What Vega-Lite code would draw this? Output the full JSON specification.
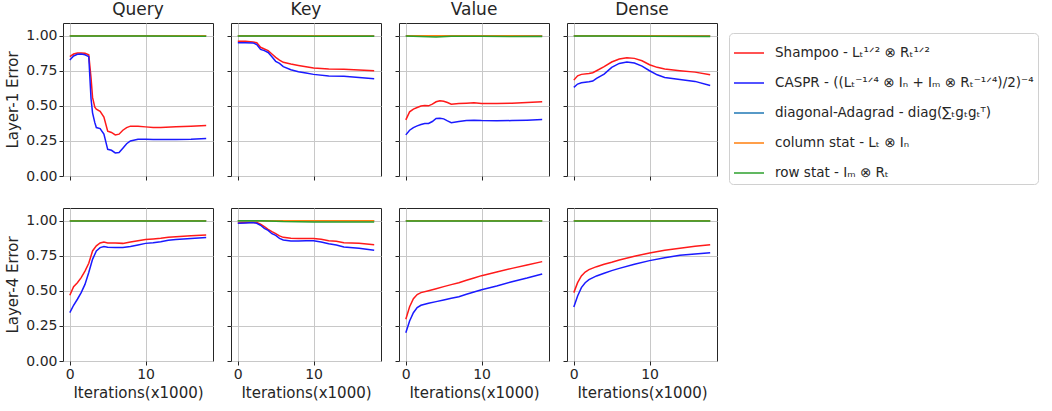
{
"$schema":"https://vega.github.io/schema/vega-lite/v6.json",
"padding":{"left":5,"top":0,"right":2,"bottom":5},
"datasets":{"d":[
{"r":1,"c":"Query","x":0,"a":0.85,"b":0.826,"d":1,"o":0.999,"g":0.997},
{"r":1,"c":"Query","x":0.5,"a":0.869,"b":0.855},
{"r":1,"c":"Query","x":1,"a":0.876,"b":0.867},
{"r":1,"c":"Query","x":1.5,"a":0.876,"b":0.869},
{"r":1,"c":"Query","x":2,"a":0.874,"b":0.864},
{"r":1,"c":"Query","x":2.5,"a":0.864,"b":0.85},
{"r":1,"c":"Query","x":2.8,"a":0.7,"b":0.55},
{"r":1,"c":"Query","x":3,"a":0.56,"b":0.45},
{"r":1,"c":"Query","x":3.3,"a":0.49,"b":0.38},
{"r":1,"c":"Query","x":3.5,"a":0.476,"b":0.345},
{"r":1,"c":"Query","x":4,"a":0.46,"b":0.338},
{"r":1,"c":"Query","x":4.5,"a":0.42,"b":0.298},
{"r":1,"c":"Query","x":5,"a":0.32,"b":0.19,"d":1,"o":0.999,"g":0.997},
{"r":1,"c":"Query","x":5.5,"a":0.31,"b":0.183},
{"r":1,"c":"Query","x":6,"a":0.293,"b":0.164},
{"r":1,"c":"Query","x":6.5,"a":0.298,"b":0.167},
{"r":1,"c":"Query","x":7,"a":0.326,"b":0.198},
{"r":1,"c":"Query","x":7.5,"a":0.345,"b":0.23},
{"r":1,"c":"Query","x":8,"a":0.355,"b":0.25},
{"r":1,"c":"Query","x":9,"a":0.355,"b":0.262},
{"r":1,"c":"Query","x":10,"a":0.35,"b":0.262,"d":1,"o":0.999,"g":0.997},
{"r":1,"c":"Query","x":11,"a":0.345,"b":0.26},
{"r":1,"c":"Query","x":12,"a":0.345,"b":0.26},
{"r":1,"c":"Query","x":14,"a":0.35,"b":0.26},
{"r":1,"c":"Query","x":16,"a":0.355,"b":0.262},
{"r":1,"c":"Query","x":18,"a":0.36,"b":0.267,"d":1,"o":0.999,"g":0.996},

{"r":1,"c":"Key","x":0,"a":0.96,"b":0.95,"d":1,"o":1,"g":0.998},
{"r":1,"c":"Key","x":1,"a":0.96,"b":0.95},
{"r":1,"c":"Key","x":2,"a":0.955,"b":0.948},
{"r":1,"c":"Key","x":2.5,"a":0.95,"b":0.936},
{"r":1,"c":"Key","x":3,"a":0.917,"b":0.902},
{"r":1,"c":"Key","x":3.5,"a":0.905,"b":0.893},
{"r":1,"c":"Key","x":4,"a":0.893,"b":0.88},
{"r":1,"c":"Key","x":4.5,"a":0.869,"b":0.85},
{"r":1,"c":"Key","x":5,"a":0.845,"b":0.817,"d":1,"o":1,"g":0.997},
{"r":1,"c":"Key","x":5.5,"a":0.826,"b":0.802},
{"r":1,"c":"Key","x":6,"a":0.81,"b":0.779},
{"r":1,"c":"Key","x":7,"a":0.798,"b":0.757},
{"r":1,"c":"Key","x":8,"a":0.788,"b":0.743},
{"r":1,"c":"Key","x":9,"a":0.779,"b":0.733},
{"r":1,"c":"Key","x":10,"a":0.769,"b":0.724,"d":1,"o":0.999,"g":0.996},
{"r":1,"c":"Key","x":12,"a":0.762,"b":0.712},
{"r":1,"c":"Key","x":14,"a":0.76,"b":0.71},
{"r":1,"c":"Key","x":16,"a":0.755,"b":0.702},
{"r":1,"c":"Key","x":18,"a":0.75,"b":0.693,"d":1,"o":0.998,"g":0.995},

{"r":1,"c":"Value","x":0,"a":0.4,"b":0.293,"d":1,"o":1,"g":0.998},
{"r":1,"c":"Value","x":0.5,"a":0.457,"b":0.326},
{"r":1,"c":"Value","x":1,"a":0.476,"b":0.345},
{"r":1,"c":"Value","x":1.5,"a":0.488,"b":0.357},
{"r":1,"c":"Value","x":2,"a":0.498,"b":0.367,"g":0.994},
{"r":1,"c":"Value","x":2.5,"a":0.502,"b":0.374},
{"r":1,"c":"Value","x":3,"a":0.5,"b":0.374},
{"r":1,"c":"Value","x":3.5,"a":0.512,"b":0.388},
{"r":1,"c":"Value","x":4,"a":0.529,"b":0.41,"g":0.99},
{"r":1,"c":"Value","x":4.5,"a":0.536,"b":0.412},
{"r":1,"c":"Value","x":5,"a":0.533,"b":0.407,"d":1,"o":1},
{"r":1,"c":"Value","x":5.5,"a":0.524,"b":0.393},
{"r":1,"c":"Value","x":6,"a":0.512,"b":0.38,"g":0.996},
{"r":1,"c":"Value","x":7,"a":0.517,"b":0.388},
{"r":1,"c":"Value","x":8,"a":0.519,"b":0.395},
{"r":1,"c":"Value","x":9,"a":0.521,"b":0.398},
{"r":1,"c":"Value","x":10,"a":0.517,"b":0.395,"d":1,"o":0.999,"g":0.995},
{"r":1,"c":"Value","x":12,"a":0.517,"b":0.393},
{"r":1,"c":"Value","x":14,"a":0.519,"b":0.395},
{"r":1,"c":"Value","x":16,"a":0.524,"b":0.398},
{"r":1,"c":"Value","x":18,"a":0.529,"b":0.402,"d":1,"o":0.998,"g":0.994},

{"r":1,"c":"Dense","x":0,"a":0.683,"b":0.631,"d":1,"o":1,"g":0.998},
{"r":1,"c":"Dense","x":0.5,"a":0.714,"b":0.655},
{"r":1,"c":"Dense","x":1,"a":0.724,"b":0.664},
{"r":1,"c":"Dense","x":2,"a":0.731,"b":0.671},
{"r":1,"c":"Dense","x":2.5,"a":0.736,"b":0.676},
{"r":1,"c":"Dense","x":3,"a":0.75,"b":0.695},
{"r":1,"c":"Dense","x":4,"a":0.779,"b":0.726},
{"r":1,"c":"Dense","x":5,"a":0.812,"b":0.774,"d":1,"o":1,"g":0.997},
{"r":1,"c":"Dense","x":6,"a":0.833,"b":0.802},
{"r":1,"c":"Dense","x":7,"a":0.843,"b":0.812},
{"r":1,"c":"Dense","x":8,"a":0.838,"b":0.805},
{"r":1,"c":"Dense","x":9,"a":0.821,"b":0.783},
{"r":1,"c":"Dense","x":10,"a":0.793,"b":0.75,"d":1,"o":0.999,"g":0.995},
{"r":1,"c":"Dense","x":11,"a":0.774,"b":0.721},
{"r":1,"c":"Dense","x":12,"a":0.762,"b":0.702},
{"r":1,"c":"Dense","x":14,"a":0.75,"b":0.688},
{"r":1,"c":"Dense","x":16,"a":0.74,"b":0.674},
{"r":1,"c":"Dense","x":18,"a":0.721,"b":0.645,"d":1,"o":0.998,"g":0.993},

{"r":4,"c":"Query","x":0,"a":0.468,"b":0.344,"d":1,"o":1,"g":0.998},
{"r":4,"c":"Query","x":0.5,"a":0.53,"b":0.397},
{"r":4,"c":"Query","x":1,"a":0.558,"b":0.44},
{"r":4,"c":"Query","x":1.5,"a":0.594,"b":0.487},
{"r":4,"c":"Query","x":2,"a":0.641,"b":0.546},
{"r":4,"c":"Query","x":2.5,"a":0.696,"b":0.63},
{"r":4,"c":"Query","x":3,"a":0.784,"b":0.724},
{"r":4,"c":"Query","x":3.5,"a":0.82,"b":0.784},
{"r":4,"c":"Query","x":4,"a":0.841,"b":0.808},
{"r":4,"c":"Query","x":4.5,"a":0.848,"b":0.815},
{"r":4,"c":"Query","x":5,"a":0.841,"b":0.81,"d":1,"o":1,"g":0.997},
{"r":4,"c":"Query","x":6,"a":0.841,"b":0.808},
{"r":4,"c":"Query","x":7,"a":0.838,"b":0.808},
{"r":4,"c":"Query","x":8,"a":0.848,"b":0.815},
{"r":4,"c":"Query","x":9,"a":0.857,"b":0.827},
{"r":4,"c":"Query","x":10,"a":0.865,"b":0.838,"d":1,"o":1,"g":0.997},
{"r":4,"c":"Query","x":11,"a":0.869,"b":0.843},
{"r":4,"c":"Query","x":12,"a":0.874,"b":0.85},
{"r":4,"c":"Query","x":13,"a":0.881,"b":0.86},
{"r":4,"c":"Query","x":14,"a":0.886,"b":0.865},
{"r":4,"c":"Query","x":16,"a":0.893,"b":0.872},
{"r":4,"c":"Query","x":18,"a":0.898,"b":0.879,"d":1,"o":0.999,"g":0.997},

{"r":4,"c":"Key","x":0,"a":0.983,"b":0.981,"d":1,"o":1,"g":1},
{"r":4,"c":"Key","x":1,"a":0.986,"b":0.983},
{"r":4,"c":"Key","x":2,"a":0.988,"b":0.986},
{"r":4,"c":"Key","x":2.5,"a":0.986,"b":0.981},
{"r":4,"c":"Key","x":3,"a":0.974,"b":0.967,"g":0.999},
{"r":4,"c":"Key","x":3.5,"a":0.957,"b":0.945},
{"r":4,"c":"Key","x":4,"a":0.938,"b":0.931},
{"r":4,"c":"Key","x":4.5,"a":0.922,"b":0.907},
{"r":4,"c":"Key","x":5,"a":0.907,"b":0.895,"d":1,"o":1},
{"r":4,"c":"Key","x":5.5,"a":0.891,"b":0.874},
{"r":4,"c":"Key","x":6,"a":0.881,"b":0.862,"g":0.993},
{"r":4,"c":"Key","x":7,"a":0.874,"b":0.855},
{"r":4,"c":"Key","x":8,"a":0.872,"b":0.855},
{"r":4,"c":"Key","x":9,"a":0.872,"b":0.857},
{"r":4,"c":"Key","x":10,"a":0.872,"b":0.857,"d":1,"o":1,"g":0.99},
{"r":4,"c":"Key","x":11,"a":0.867,"b":0.848},
{"r":4,"c":"Key","x":12,"a":0.857,"b":0.836},
{"r":4,"c":"Key","x":13,"a":0.853,"b":0.827},
{"r":4,"c":"Key","x":14,"a":0.843,"b":0.812},
{"r":4,"c":"Key","x":16,"a":0.838,"b":0.803},
{"r":4,"c":"Key","x":18,"a":0.829,"b":0.789,"d":1,"o":1,"g":0.99},

{"r":4,"c":"Value","x":0,"a":0.297,"b":0.202,"d":1,"o":1,"g":0.998},
{"r":4,"c":"Value","x":0.5,"a":0.387,"b":0.285},
{"r":4,"c":"Value","x":1,"a":0.444,"b":0.344},
{"r":4,"c":"Value","x":1.5,"a":0.473,"b":0.38},
{"r":4,"c":"Value","x":2,"a":0.487,"b":0.397},
{"r":4,"c":"Value","x":3,"a":0.501,"b":0.411},
{"r":4,"c":"Value","x":4,"a":0.515,"b":0.423},
{"r":4,"c":"Value","x":5,"a":0.53,"b":0.435,"d":1,"o":1,"g":0.998},
{"r":4,"c":"Value","x":6,"a":0.544,"b":0.447},
{"r":4,"c":"Value","x":7,"a":0.558,"b":0.458},
{"r":4,"c":"Value","x":8,"a":0.575,"b":0.475},
{"r":4,"c":"Value","x":9,"a":0.591,"b":0.492},
{"r":4,"c":"Value","x":10,"a":0.608,"b":0.508,"d":1,"o":1,"g":0.998},
{"r":4,"c":"Value","x":12,"a":0.634,"b":0.534},
{"r":4,"c":"Value","x":14,"a":0.66,"b":0.565},
{"r":4,"c":"Value","x":16,"a":0.684,"b":0.591},
{"r":4,"c":"Value","x":18,"a":0.708,"b":0.62,"d":1,"o":1,"g":0.998},

{"r":4,"c":"Dense","x":0,"a":0.487,"b":0.385,"d":1,"o":1,"g":0.998},
{"r":4,"c":"Dense","x":0.5,"a":0.558,"b":0.463},
{"r":4,"c":"Dense","x":1,"a":0.606,"b":0.523},
{"r":4,"c":"Dense","x":1.5,"a":0.634,"b":0.558},
{"r":4,"c":"Dense","x":2,"a":0.651,"b":0.58},
{"r":4,"c":"Dense","x":3,"a":0.672,"b":0.606},
{"r":4,"c":"Dense","x":4,"a":0.689,"b":0.625},
{"r":4,"c":"Dense","x":5,"a":0.703,"b":0.644,"d":1,"o":1,"g":0.998},
{"r":4,"c":"Dense","x":6,"a":0.72,"b":0.66},
{"r":4,"c":"Dense","x":8,"a":0.746,"b":0.689},
{"r":4,"c":"Dense","x":10,"a":0.77,"b":0.715,"d":1,"o":1,"g":0.998},
{"r":4,"c":"Dense","x":12,"a":0.789,"b":0.736},
{"r":4,"c":"Dense","x":14,"a":0.803,"b":0.753},
{"r":4,"c":"Dense","x":16,"a":0.817,"b":0.762},
{"r":4,"c":"Dense","x":18,"a":0.829,"b":0.772,"d":1,"o":1,"g":0.998}
]},
"data":{"name":"d"},
"spacing":23,
"vconcat":[
{"hconcat":[
{"width":150,"height":153,"title":"Query","transform":[{"filter":"datum.r==1 && datum.c=='Query'"},{"fold":["a","b","d","o","g"],"as":["s","y"]},{"filter":"isValid(datum.y)"}],"mark":{"type":"line","strokeWidth":1.5},
"encoding":{"x":{"field":"x","type":"quantitative","scale":{"domain":[-0.9,18.9],"nice":false,"zero":false},"axis":{"values":[0,10],"labels":false,"title":null}},
"y":{"field":"y","type":"quantitative","scale":{"domain":[0,1.09],"nice":false},"axis":{"values":[0,0.25,0.5,0.75,1],"format":".2f","title":"Layer-1 Error"}},
"color":{"field":"s","type":"nominal","scale":{"domain":["a","b","d","o","g"],"range":["#ff1a1a","#1a1aff","#1f77b4","#ff7f0e","#2ca02c"]},"legend":{"title":null,"labelExpr":"{'a':'Shampoo - Lₜ¹ᐟ² ⊗ Rₜ¹ᐟ²','b':'CASPR - ((Lₜ⁻¹ᐟ⁴ ⊗ Iₙ + Iₘ ⊗ Rₜ⁻¹ᐟ⁴)/2)⁻⁴','d':'diagonal-Adagrad - diag(∑ₜgₜgₜᵀ)','o':'column stat - Lₜ ⊗ Iₙ','g':'row stat - Iₘ ⊗ Rₜ'}[datum.label]"}}}},
{"width":150,"height":153,"title":"Key","transform":[{"filter":"datum.r==1 && datum.c=='Key'"},{"fold":["a","b","d","o","g"],"as":["s","y"]},{"filter":"isValid(datum.y)"}],"mark":{"type":"line","strokeWidth":1.5},
"encoding":{"x":{"field":"x","type":"quantitative","scale":{"domain":[-0.9,18.9],"nice":false,"zero":false},"axis":{"values":[0,10],"labels":false,"title":null}},
"y":{"field":"y","type":"quantitative","scale":{"domain":[0,1.09],"nice":false},"axis":{"values":[0,0.25,0.5,0.75,1],"labels":false,"title":null}},
"color":{"field":"s","type":"nominal","scale":{"domain":["a","b","d","o","g"],"range":["#ff1a1a","#1a1aff","#1f77b4","#ff7f0e","#2ca02c"]},"legend":{"title":null,"labelExpr":"{'a':'Shampoo - Lₜ¹ᐟ² ⊗ Rₜ¹ᐟ²','b':'CASPR - ((Lₜ⁻¹ᐟ⁴ ⊗ Iₙ + Iₘ ⊗ Rₜ⁻¹ᐟ⁴)/2)⁻⁴','d':'diagonal-Adagrad - diag(∑ₜgₜgₜᵀ)','o':'column stat - Lₜ ⊗ Iₙ','g':'row stat - Iₘ ⊗ Rₜ'}[datum.label]"}}}},
{"width":150,"height":153,"title":"Value","transform":[{"filter":"datum.r==1 && datum.c=='Value'"},{"fold":["a","b","d","o","g"],"as":["s","y"]},{"filter":"isValid(datum.y)"}],"mark":{"type":"line","strokeWidth":1.5},
"encoding":{"x":{"field":"x","type":"quantitative","scale":{"domain":[-0.9,18.9],"nice":false,"zero":false},"axis":{"values":[0,10],"labels":false,"title":null}},
"y":{"field":"y","type":"quantitative","scale":{"domain":[0,1.09],"nice":false},"axis":{"values":[0,0.25,0.5,0.75,1],"labels":false,"title":null}},
"color":{"field":"s","type":"nominal","scale":{"domain":["a","b","d","o","g"],"range":["#ff1a1a","#1a1aff","#1f77b4","#ff7f0e","#2ca02c"]},"legend":{"title":null,"labelExpr":"{'a':'Shampoo - Lₜ¹ᐟ² ⊗ Rₜ¹ᐟ²','b':'CASPR - ((Lₜ⁻¹ᐟ⁴ ⊗ Iₙ + Iₘ ⊗ Rₜ⁻¹ᐟ⁴)/2)⁻⁴','d':'diagonal-Adagrad - diag(∑ₜgₜgₜᵀ)','o':'column stat - Lₜ ⊗ Iₙ','g':'row stat - Iₘ ⊗ Rₜ'}[datum.label]"}}}},
{"width":150,"height":153,"title":"Dense","transform":[{"filter":"datum.r==1 && datum.c=='Dense'"},{"fold":["a","b","d","o","g"],"as":["s","y"]},{"filter":"isValid(datum.y)"}],"mark":{"type":"line","strokeWidth":1.5},
"encoding":{"x":{"field":"x","type":"quantitative","scale":{"domain":[-0.9,18.9],"nice":false,"zero":false},"axis":{"values":[0,10],"labels":false,"title":null}},
"y":{"field":"y","type":"quantitative","scale":{"domain":[0,1.09],"nice":false},"axis":{"values":[0,0.25,0.5,0.75,1],"labels":false,"title":null}},
"color":{"field":"s","type":"nominal","scale":{"domain":["a","b","d","o","g"],"range":["#ff1a1a","#1a1aff","#1f77b4","#ff7f0e","#2ca02c"]},"legend":{"title":null,"labelExpr":"{'a':'Shampoo - Lₜ¹ᐟ² ⊗ Rₜ¹ᐟ²','b':'CASPR - ((Lₜ⁻¹ᐟ⁴ ⊗ Iₙ + Iₘ ⊗ Rₜ⁻¹ᐟ⁴)/2)⁻⁴','d':'diagonal-Adagrad - diag(∑ₜgₜgₜᵀ)','o':'column stat - Lₜ ⊗ Iₙ','g':'row stat - Iₘ ⊗ Rₜ'}[datum.label]"}}}}
],"spacing":12},
{"hconcat":[
{"width":150,"height":153,"transform":[{"filter":"datum.r==4 && datum.c=='Query'"},{"fold":["a","b","d","o","g"],"as":["s","y"]},{"filter":"isValid(datum.y)"}],"mark":{"type":"line","strokeWidth":1.5},
"encoding":{"x":{"field":"x","type":"quantitative","scale":{"domain":[-0.9,18.9],"nice":false,"zero":false},"axis":{"values":[0,10],"title":"Iterations(x1000)"}},
"y":{"field":"y","type":"quantitative","scale":{"domain":[0,1.09],"nice":false},"axis":{"values":[0,0.25,0.5,0.75,1],"format":".2f","title":"Layer-4 Error"}},
"color":{"field":"s","type":"nominal","scale":{"domain":["a","b","d","o","g"],"range":["#ff1a1a","#1a1aff","#1f77b4","#ff7f0e","#2ca02c"]},"legend":{"title":null,"labelExpr":"{'a':'Shampoo - Lₜ¹ᐟ² ⊗ Rₜ¹ᐟ²','b':'CASPR - ((Lₜ⁻¹ᐟ⁴ ⊗ Iₙ + Iₘ ⊗ Rₜ⁻¹ᐟ⁴)/2)⁻⁴','d':'diagonal-Adagrad - diag(∑ₜgₜgₜᵀ)','o':'column stat - Lₜ ⊗ Iₙ','g':'row stat - Iₘ ⊗ Rₜ'}[datum.label]"}}}},
{"width":150,"height":153,"transform":[{"filter":"datum.r==4 && datum.c=='Key'"},{"fold":["a","b","d","o","g"],"as":["s","y"]},{"filter":"isValid(datum.y)"}],"mark":{"type":"line","strokeWidth":1.5},
"encoding":{"x":{"field":"x","type":"quantitative","scale":{"domain":[-0.9,18.9],"nice":false,"zero":false},"axis":{"values":[0,10],"title":"Iterations(x1000)"}},
"y":{"field":"y","type":"quantitative","scale":{"domain":[0,1.09],"nice":false},"axis":{"values":[0,0.25,0.5,0.75,1],"labels":false,"title":null}},
"color":{"field":"s","type":"nominal","scale":{"domain":["a","b","d","o","g"],"range":["#ff1a1a","#1a1aff","#1f77b4","#ff7f0e","#2ca02c"]},"legend":{"title":null,"labelExpr":"{'a':'Shampoo - Lₜ¹ᐟ² ⊗ Rₜ¹ᐟ²','b':'CASPR - ((Lₜ⁻¹ᐟ⁴ ⊗ Iₙ + Iₘ ⊗ Rₜ⁻¹ᐟ⁴)/2)⁻⁴','d':'diagonal-Adagrad - diag(∑ₜgₜgₜᵀ)','o':'column stat - Lₜ ⊗ Iₙ','g':'row stat - Iₘ ⊗ Rₜ'}[datum.label]"}}}},
{"width":150,"height":153,"transform":[{"filter":"datum.r==4 && datum.c=='Value'"},{"fold":["a","b","d","o","g"],"as":["s","y"]},{"filter":"isValid(datum.y)"}],"mark":{"type":"line","strokeWidth":1.5},
"encoding":{"x":{"field":"x","type":"quantitative","scale":{"domain":[-0.9,18.9],"nice":false,"zero":false},"axis":{"values":[0,10],"title":"Iterations(x1000)"}},
"y":{"field":"y","type":"quantitative","scale":{"domain":[0,1.09],"nice":false},"axis":{"values":[0,0.25,0.5,0.75,1],"labels":false,"title":null}},
"color":{"field":"s","type":"nominal","scale":{"domain":["a","b","d","o","g"],"range":["#ff1a1a","#1a1aff","#1f77b4","#ff7f0e","#2ca02c"]},"legend":{"title":null,"labelExpr":"{'a':'Shampoo - Lₜ¹ᐟ² ⊗ Rₜ¹ᐟ²','b':'CASPR - ((Lₜ⁻¹ᐟ⁴ ⊗ Iₙ + Iₘ ⊗ Rₜ⁻¹ᐟ⁴)/2)⁻⁴','d':'diagonal-Adagrad - diag(∑ₜgₜgₜᵀ)','o':'column stat - Lₜ ⊗ Iₙ','g':'row stat - Iₘ ⊗ Rₜ'}[datum.label]"}}}},
{"width":150,"height":153,"transform":[{"filter":"datum.r==4 && datum.c=='Dense'"},{"fold":["a","b","d","o","g"],"as":["s","y"]},{"filter":"isValid(datum.y)"}],"mark":{"type":"line","strokeWidth":1.5},
"encoding":{"x":{"field":"x","type":"quantitative","scale":{"domain":[-0.9,18.9],"nice":false,"zero":false},"axis":{"values":[0,10],"title":"Iterations(x1000)"}},
"y":{"field":"y","type":"quantitative","scale":{"domain":[0,1.09],"nice":false},"axis":{"values":[0,0.25,0.5,0.75,1],"labels":false,"title":null}},
"color":{"field":"s","type":"nominal","scale":{"domain":["a","b","d","o","g"],"range":["#ff1a1a","#1a1aff","#1f77b4","#ff7f0e","#2ca02c"]},"legend":{"title":null,"labelExpr":"{'a':'Shampoo - Lₜ¹ᐟ² ⊗ Rₜ¹ᐟ²','b':'CASPR - ((Lₜ⁻¹ᐟ⁴ ⊗ Iₙ + Iₘ ⊗ Rₜ⁻¹ᐟ⁴)/2)⁻⁴','d':'diagonal-Adagrad - diag(∑ₜgₜgₜᵀ)','o':'column stat - Lₜ ⊗ Iₙ','g':'row stat - Iₘ ⊗ Rₜ'}[datum.label]"}}}}
],"spacing":12}
],
"config":{
"font":"DejaVu Sans",
"view":{"stroke":"#262626","strokeWidth":1},
"axis":{"domain":false,"grid":true,"gridColor":"#c8c8c8","gridWidth":1,"tickColor":"#262626","tickSize":4,"labelFontSize":14,"labelColor":"#262626","labelPadding":2,"titleFontSize":15,"titleFontWeight":"normal","titleColor":"#262626","titlePadding":4},
"axisY":{"titlePadding":5},
"title":{"fontSize":17,"fontWeight":"normal","color":"#262626","offset":4},
"legend":{"orient":"none","legendX":666,"legendY":10,"symbolType":"stroke","symbolSize":900,"symbolStrokeWidth":1.5,"labelFontSize":13.5,"labelColor":"#262626","labelLimit":330,"labelOffset":10,"rowPadding":7,"padding":4,"strokeColor":"#d0d0d0","cornerRadius":4}
}
}
